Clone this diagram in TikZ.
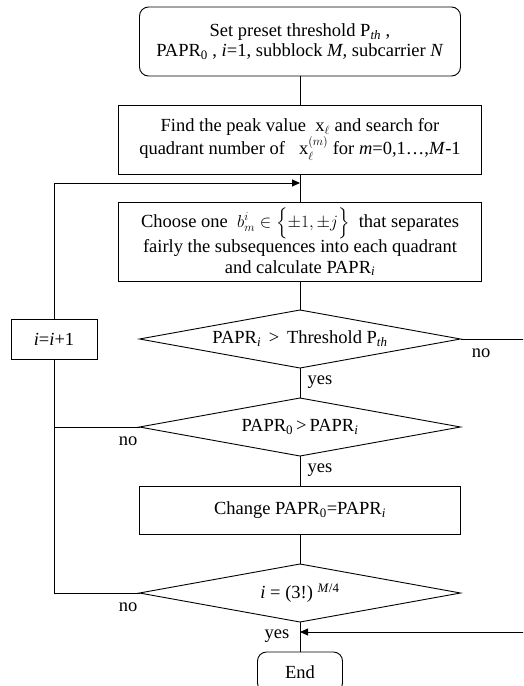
\documentclass[tikz,border=0pt]{standalone}
\usepackage{fontspec}
\setmainfont{Liberation Serif}
\usepackage{amsmath}
\usetikzlibrary{shapes.geometric,arrows.meta,positioning}
\begin{document}
\begin{tikzpicture}[x=1pt,y=-1pt,line width=0.9pt,every node/.style={font=\fontsize{18.5}{20.5}\selectfont,outer sep=0pt}]
\tikzstyle{stepbox}=[draw,rectangle,align=center,inner sep=2pt]
\tikzstyle{termbox}=[stepbox,rounded corners=9pt]
\tikzstyle{decide}=[draw,diamond,aspect=5.5,inner sep=0pt,minimum width=321pt,minimum height=58pt]
\tikzstyle{flow}=[-{Triangle[length=8pt,width=7pt]}]
\tikzstyle{tag}=[draw=none,inner sep=0pt]

\useasboundingbox (0,0) rectangle (523,686);
\clip (0,0) rectangle (523,686);

\node (start) at (300,41.5) [termbox,minimum width=321pt,minimum height=69pt] {Set preset threshold P\textsubscript{\textit{th}} ,\\ PAPR\textsubscript{0} , \textit{i}=1, subblock \textit{M,} subcarrier \textit{N}};
\node (peak) at (300,139.5) [stepbox,minimum width=363pt,minimum height=69pt] {Find the peak value \ $\mathrm{x}_{\ell}$ and search for\\ quadrant number of \ \ $\mathrm{x}_{\ell}^{(m)}$ for \textit{m}=0,1\ldots,\textit{M}-1};
\node (choose) at (300,241.5) [stepbox,minimum width=363pt,minimum height=79pt] {Choose one \ $b_m^i \in \Bigl\{\pm 1, \pm j\Bigr\}$ \ that separates\\ fairly the subsequences into each quadrant\\ and calculate PAPR\textsubscript{\textit{i}}};
\node (thr) at (300,339) [decide] {PAPR\textsubscript{\textit{i}} \,>\, Threshold P\textsubscript{\textit{th}}};
\node (inc) at (54,339) [stepbox,minimum width=86pt,minimum height=40pt] {\textit{i}=\textit{i}+1};
\node (cmp) at (300,427) [decide] {PAPR\textsubscript{0}\,>\,PAPR\textsubscript{\textit{i}}};
\node (chg) at (300,510) [stepbox,minimum width=321pt,minimum height=48pt] {Change PAPR\textsubscript{0}=PAPR\textsubscript{\textit{i}}};
\node (last) at (300,593) [decide] {\textit{i} = (3!)\ \textsuperscript{\textit{M}/4}};
\node (fin) at (300,652) [termbox,anchor=north,minimum width=85pt,minimum height=40pt] {End};

\coordinate (loopin) at (300,183);
\coordinate (outA) at (530,339);
\coordinate (outB) at (530,632);
\coordinate (join) at (300,632);

\draw (start) -- (peak);
\draw (peak) -- (choose);
\draw (choose) -- (thr);
\draw (thr) -- (cmp);
\draw (cmp) -- (chg);
\draw (chg) -- (last);
\draw (last) -- (fin);
\draw (last.west) -| (inc.south);
\draw (cmp.west) -- (inc.south |- cmp.west);
\draw [flow] (inc.north) |- (loopin);
\draw (thr.east) -- (outA) -- (outB);
\draw [flow] (outB) -- (join);

\node (no1) at (481,353) [tag] {no};
\node (no2) at (128,441) [tag] {no};
\node (no3) at (128,607) [tag] {no};
\node (yes1) at (320,382) [tag] {yes};
\node (yes2) at (320,470) [tag] {yes};
\node (yes3) at (277,636) [tag] {yes};
\end{tikzpicture}
\end{document}
